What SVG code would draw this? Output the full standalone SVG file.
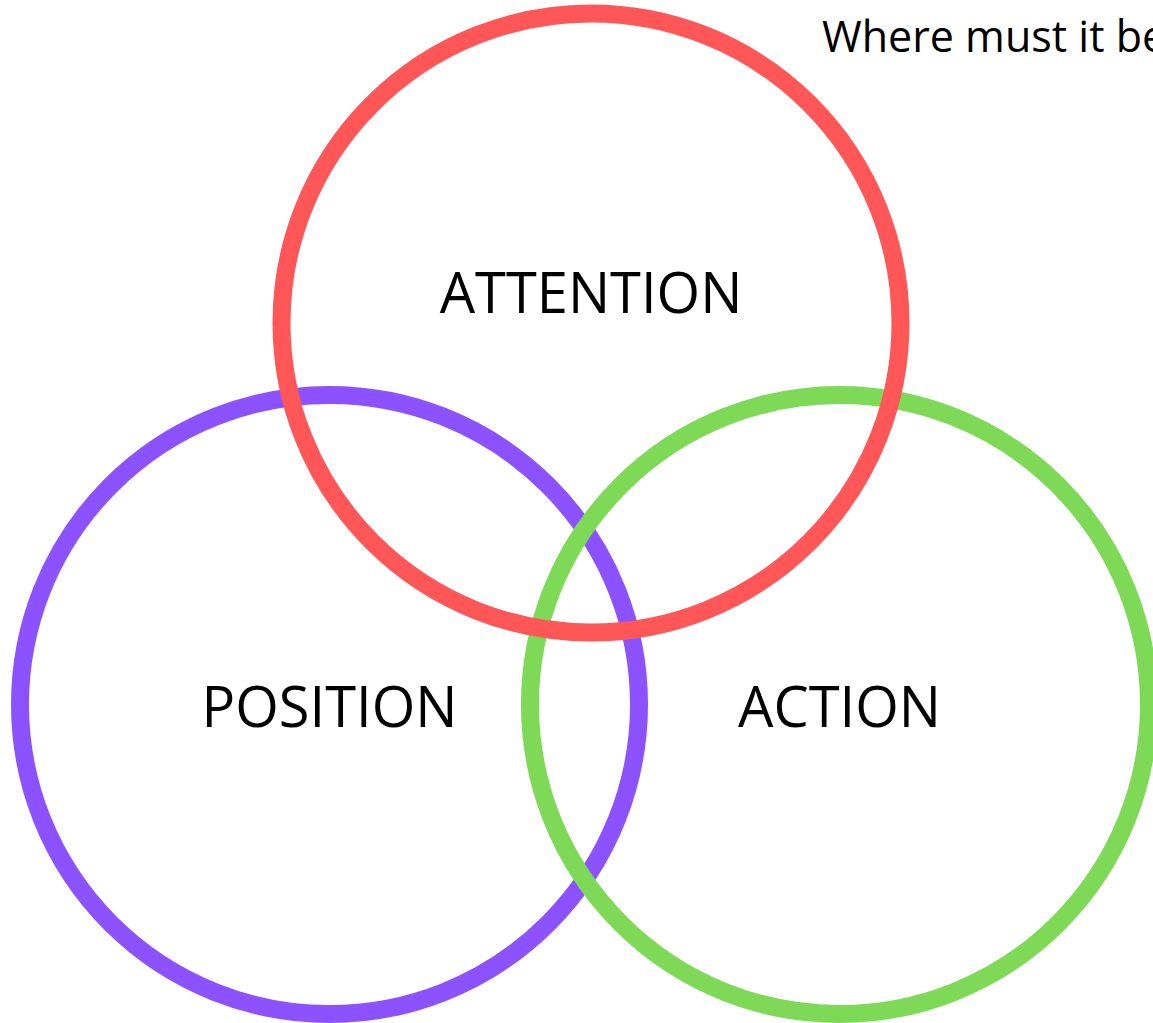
<svg xmlns="http://www.w3.org/2000/svg" width="1153" height="1023" viewBox="0 0 1153 1023">
  <style>
    .ring { fill: none; stroke-width: 18; }
    .label { font-family: "Open Sans", "Noto Sans", "Liberation Sans", sans-serif; font-size: 56px; fill: #000; text-anchor: middle; }
    .note { font-family: "Open Sans", "Noto Sans", "Liberation Sans", sans-serif; font-size: 43px; fill: #000; }
  </style>
  <rect width="1153" height="1023" fill="#fff"/>

  <!-- lower-left circle -->
  <g id="position">
    <circle class="ring" cx="329.5" cy="704.5" r="309.5" stroke="#8C52FF"/>
    <text class="label" x="329.5" y="727">POSITION</text>
  </g>

  <!-- lower-right circle -->
  <g id="action">
    <circle class="ring" cx="839.5" cy="704.5" r="309.5" stroke="#7ED957"/>
    <text class="label" x="839.5" y="727">ACTION</text>
  </g>

  <!-- top circle -->
  <g id="attention">
    <circle class="ring" cx="591" cy="323" r="309.5" stroke="#FF5757"/>
    <text class="label" x="591" y="313">ATTENTION</text>
  </g>

  <g id="caption">
    <text class="note" x="822" y="52">Where must it be</text>
  </g>
</svg>
